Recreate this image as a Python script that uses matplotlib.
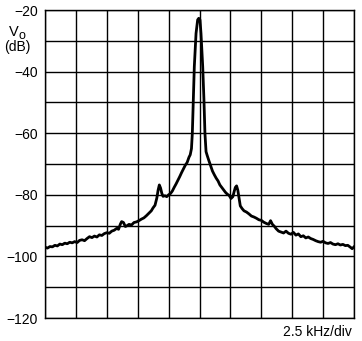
import matplotlib
matplotlib.use("Agg")
import matplotlib.pyplot as plt

freq_khz = [
    -12.5, -12.3, -12.1, -11.9, -11.7, -11.5, -11.3, -11.1, -10.9, -10.7,
    -10.5, -10.3, -10.1, -9.9, -9.7, -9.5, -9.3, -9.1, -8.9, -8.7,
    -8.5, -8.3, -8.1, -7.9, -7.7, -7.5, -7.3, -7.1, -6.9, -6.7,
    -6.55, -6.4, -6.3, -6.15, -6.0, -5.85, -5.7, -5.5, -5.3, -5.1,
    -4.9, -4.7, -4.5, -4.3, -4.1, -3.9, -3.75, -3.6, -3.45, -3.35,
    -3.25, -3.15, -3.05, -2.95, -2.8, -2.65, -2.5, -2.35, -2.2, -2.05,
    -1.9, -1.75, -1.6, -1.45, -1.3, -1.15, -1.0, -0.85, -0.75, -0.65,
    -0.58, -0.50, -0.42, -0.28, -0.15, -0.06, 0.04, 0.12, 0.26, 0.36,
    0.44, 0.53, 0.62, 0.75, 0.9, 1.05, 1.2, 1.35, 1.5, 1.65,
    1.8, 1.95, 2.1, 2.25, 2.4, 2.55, 2.7, 2.8, 2.9, 3.0,
    3.1, 3.2, 3.3, 3.45, 3.6, 3.8, 4.0, 4.2, 4.4, 4.6,
    4.8, 5.0, 5.2, 5.4, 5.6, 5.75, 5.9, 6.05, 6.2, 6.4,
    6.6, 6.8, 7.0, 7.2, 7.4, 7.6, 7.8, 8.0, 8.2, 8.4,
    8.6, 8.8, 9.0, 9.2, 9.4, 9.6, 9.8, 10.0, 10.2, 10.4,
    10.6, 10.8, 11.0, 11.2, 11.4, 11.6, 11.8, 12.0, 12.2, 12.35,
    12.5,
]
vo_db = [
    -97.0, -97.3, -96.8, -96.9, -96.4, -96.6, -96.0, -96.2, -95.7, -95.9,
    -95.4, -95.6, -95.2, -95.5, -94.8, -94.6, -94.9, -94.2, -93.6, -93.9,
    -93.4, -93.7, -93.0, -93.2, -92.6, -92.3, -92.5, -91.8, -91.5, -90.9,
    -91.2, -89.5, -88.7, -89.0, -90.3, -90.0, -89.6, -89.8, -89.0, -88.8,
    -88.4, -87.9, -87.5, -86.8, -86.0, -85.2, -84.2, -83.4, -81.0, -78.5,
    -76.8, -77.8, -79.5, -80.5, -80.3, -80.6, -80.0, -79.6, -78.8, -77.6,
    -76.5, -75.3, -74.1, -72.8, -71.6, -70.4, -69.5, -67.8, -67.0, -65.0,
    -60.0, -49.2, -38.4, -27.6, -23.2, -22.7, -23.2, -27.6, -38.4, -49.2,
    -60.0, -66.0, -67.2, -68.8, -70.5, -72.3, -73.5, -74.6, -75.5, -76.8,
    -77.6, -78.4, -79.2, -79.8, -80.2, -81.2, -80.6, -79.0, -77.6, -77.1,
    -78.5, -81.0, -83.6, -84.5, -85.2, -85.6, -86.2, -86.9, -87.2, -87.6,
    -88.1, -88.3, -88.9, -89.3, -89.6, -88.4, -89.6, -90.2, -91.0, -91.8,
    -92.1, -92.4, -91.8, -92.5, -92.8, -92.2, -93.1, -92.7, -93.6, -93.3,
    -94.0, -93.7, -94.2, -94.5, -94.9, -95.2, -95.4, -95.1, -95.6, -95.8,
    -95.5, -96.0, -96.2, -95.9, -96.3, -96.1, -96.5, -96.4, -97.0, -97.5,
    -96.9,
]
y_ticks = [-120, -110, -100, -90, -80, -70, -60, -50, -40, -30, -20]
y_tick_labels = ["\u2212120", "", "\u2212100", "", "\u221280", "", "\u221260", "",
                 "\u221240", "", "\u221220"]
x_ticks = [-12.5, -10.0, -7.5, -5.0, -2.5, 0.0, 2.5, 5.0, 7.5, 10.0, 12.5]

plt.rcParams['font.family'] = ['Liberation Sans', 'DejaVu Sans']

fig = plt.figure(figsize=(3.62, 3.41), dpi=100)
ax = fig.add_axes([45 / 362, 23 / 341, 309 / 362, 308 / 341])
ax.plot(freq_khz, vo_db, color='black', lw=2.0, solid_joinstyle='round')
ax.set_xlim(-12.5, 12.5)
ax.set_ylim(-120, -20)
ax.set_xticks(x_ticks)
ax.set_xticklabels([])
ax.set_yticks(y_ticks)
ax.set_yticklabels(y_tick_labels, fontsize=10)
ax.tick_params(length=0, pad=5)
ax.grid(True, color='black', lw=1.0)
for s in ax.spines.values():
    s.set_color('black')
    s.set_linewidth(1.0)

fig.text(18.3 / 362, 1 - 35.8 / 341, "V", fontsize=10.5, ha='right', va='baseline')
fig.text(18.5 / 362, 1 - 39.0 / 341, "o", fontsize=9, ha='left', va='baseline')
fig.text(17 / 362, 1 - 47.5 / 341, "(dB)", fontsize=10, ha='center', va='center')
fig.text(352 / 362, 1 - 332 / 341, "2.5 kHz/div", fontsize=10, ha='right', va='center')

fig.savefig("out.png", dpi=100)
